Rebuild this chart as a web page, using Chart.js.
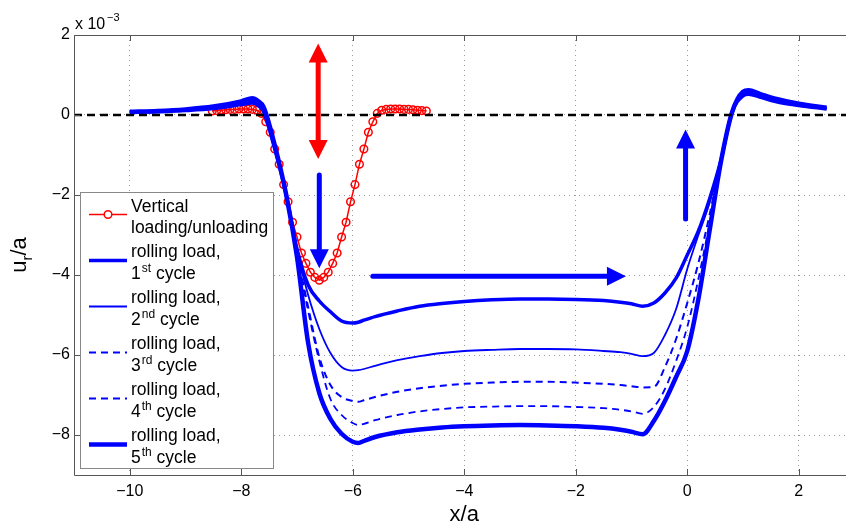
<!DOCTYPE html>
<html>
<head>
<meta charset="utf-8">
<script src="https://cdn.jsdelivr.net/npm/chart.js@4/dist/chart.umd.min.js"></script>
<style>
	html, body { margin: 0; padding: 0; background: #fff; overflow: hidden; }
	#wrap { width: 860px; height: 527px; }
</style>
</head>
<body>
<div id="wrap"><canvas id="ur-chart" width="860" height="527"></canvas></div>
<script>
// values are in units of 1e-3 (axis exponent label)
const xTicks = [ -10, -8, -6, -4, -2, 0, 2 ];
const yTicks = [ -8, -6, -4, -2, 0, 2 ];

const xRolling = [ -10, -9.5, -9, -8.5, -8, -7.8, -7.7, -7.6, -7.4, -7.2, -7.0, -6.8, -6.6, -6.4, -6.2, -6.0, -5.9, -5.8, -5.6, -5.2, -4.8, -4.4, -4, -3.5, -3, -2.5, -2, -1.5, -1.2, -1.0, -0.8, -0.6, -0.4, -0.2, 0, 0.2, 0.4, 0.6, 0.8, 1.0, 1.1, 1.3, 1.6, 2.0, 2.5 ];
const cycle1 = [ 0.06, 0.08, 0.11, 0.16, 0.26, 0.30, 0.24, 0.08, -0.85, -1.95, -3.35, -4.25, -4.65, -4.92, -5.15, -5.2, -5.18, -5.13, -5.04, -4.9, -4.78, -4.71, -4.66, -4.62, -4.6, -4.6, -4.61, -4.64, -4.68, -4.72, -4.78, -4.7, -4.45, -4.08, -3.5, -2.9, -2.1, -1.15, 0.05, 0.48, 0.52, 0.45, 0.33, 0.24, 0.15 ];
const cycle2 = [ 0.07, 0.09, 0.12, 0.18, 0.29, 0.34, 0.27, 0.12, -0.82, -1.95, -3.4, -4.5, -5.35, -5.95, -6.3, -6.39, -6.38, -6.35, -6.27, -6.13, -6.03, -5.95, -5.9, -5.87, -5.85, -5.85, -5.86, -5.9, -5.93, -5.97, -6.03, -5.95, -5.5, -4.85, -3.85, -3.0, -2.2, -1.15, 0.05, 0.52, 0.56, 0.48, 0.35, 0.25, 0.16 ];
const cycle3 = [ 0.07, 0.09, 0.13, 0.19, 0.31, 0.37, 0.30, 0.15, -0.8, -1.95, -3.45, -4.8, -6.05, -6.75, -7.05, -7.15, -7.17, -7.13, -7.05, -6.92, -6.83, -6.77, -6.72, -6.69, -6.67, -6.67, -6.69, -6.72, -6.75, -6.78, -6.81, -6.8, -6.3, -5.6, -4.7, -3.7, -2.5, -1.15, 0.05, 0.55, 0.58, 0.5, 0.37, 0.26, 0.17 ];
const cycle4 = [ 0.07, 0.10, 0.13, 0.20, 0.32, 0.39, 0.32, 0.17, -0.78, -1.95, -3.5, -4.9, -6.15, -7.1, -7.5, -7.7, -7.75, -7.72, -7.63, -7.5, -7.41, -7.35, -7.31, -7.29, -7.28, -7.28, -7.3, -7.33, -7.37, -7.41, -7.47, -7.3, -6.85, -6.15, -5.3, -4.1, -2.7, -1.15, 0.05, 0.57, 0.6, 0.52, 0.38, 0.27, 0.17 ];
const cycle5 = [ 0.08, 0.10, 0.14, 0.21, 0.34, 0.42, 0.35, 0.20, -0.75, -1.95, -3.55, -5.7, -6.95, -7.6, -7.97, -8.17, -8.2, -8.15, -8.05, -7.93, -7.86, -7.81, -7.78, -7.76, -7.75, -7.76, -7.78, -7.82, -7.87, -7.92, -7.98, -7.65, -7.15, -6.55, -5.9, -4.6, -2.9, -1.2, 0.05, 0.58, 0.62, 0.53, 0.4, 0.28, 0.18 ];

const xVertical = [ -8.52, -8.44, -8.36, -8.28, -8.20, -8.12, -8.04, -7.96, -7.88, -7.80, -7.72, -7.64, -7.56, -7.48, -7.40, -7.32, -7.24, -7.16, -7.08, -7.00, -6.92, -6.84, -6.76, -6.68, -6.60, -6.52, -6.44, -6.36, -6.28, -6.20, -6.12, -6.04, -5.96, -5.88, -5.80, -5.72, -5.64, -5.56, -5.48, -5.40, -5.32, -5.24, -5.16, -5.08, -5.00, -4.92, -4.84, -4.76, -4.68 ];
const yVertical = [ 0.10, 0.11, 0.12, 0.13, 0.14, 0.14, 0.15, 0.15, 0.15, 0.14, 0.12, 0.04, -0.17, -0.43, -0.85, -1.23, -1.74, -2.17, -2.68, -3.05, -3.45, -3.71, -3.93, -4.06, -4.13, -4.06, -3.93, -3.71, -3.45, -3.05, -2.68, -2.17, -1.74, -1.23, -0.85, -0.43, -0.17, 0.04, 0.12, 0.14, 0.15, 0.15, 0.15, 0.14, 0.14, 0.13, 0.12, 0.11, 0.10 ];

const xZero = [ -11, 3 ];
const yZero = [ 0, 0 ];

// annotation arrows, data coords: [ x1, y1, x2, y2 ], head at (x2,y2)
const arrowRedBoth = [ -6.62, -1.1, -6.62, 1.79 ];
const arrowDown = [ -6.6, -1.5, -6.6, -3.83 ];
const arrowRight = [ -5.64, -4.03, -1.1, -4.03 ];
const arrowUp = [ -0.03, -2.6, -0.03, -0.36 ];

const cycleNums = [ '1', '2', '3', '4', '5' ];
const cycleSuffix = [ 'st', 'nd', 'rd', 'th', 'th' ];

const FONT = '"Liberation Sans", Arial, Helvetica, sans-serif';
const BLUE = '#0000ff';
const RED = '#ff0000';

const toPoints = ( xs, ys ) => xs.map( ( x, i ) => ( { x: x, y: ys[ i ] } ) );
const minusFmt = ( v ) => ( v < 0 ? '\u2212' + -v : '' + v );

const blueStyle = [
	{ borderWidth: 3.5, borderDash: [] },
	{ borderWidth: 1.8, borderDash: [] },
	{ borderWidth: 2, borderDash: [ 7, 5 ] },
	{ borderWidth: 1.8, borderDash: [ 7, 5 ] },
	{ borderWidth: 4.5, borderDash: [] },
];

const redSet = {
	data: toPoints( xVertical, yVertical ),
	showLine: true,
	borderColor: RED,
	borderWidth: 1.5,
	pointRadius: 3.8,
	pointBorderWidth: 1.5,
	pointBorderColor: RED,
	pointBackgroundColor: 'rgba(0,0,0,0)',
	tension: 0,
	order: 6,
};
const blueSets = [ cycle1, cycle2, cycle3, cycle4, cycle5 ].map( ( ys, i ) => ( {
	data: toPoints( xRolling, ys ),
	showLine: true,
	borderColor: BLUE,
	borderWidth: blueStyle[ i ].borderWidth,
	borderDash: blueStyle[ i ].borderDash,
	pointRadius: 0,
	cubicInterpolationMode: 'monotone',
	order: 5 - i,
} ) );
const zeroSet = {
	data: toPoints( xZero, yZero ),
	showLine: true,
	borderColor: '#000',
	borderWidth: 2.5,
	borderDash: [ 8, 5 ],
	pointRadius: 0,
	order: 0,
};

const drawArrow = ( chart, a, color, both ) => {
	const ctx = chart.ctx,
		sx = chart.scales.x,
		sy = chart.scales.y;
	const x1 = sx.getPixelForValue( a[ 0 ] ),
		y1 = sy.getPixelForValue( a[ 1 ] ),
		x2 = sx.getPixelForValue( a[ 2 ] ),
		y2 = sy.getPixelForValue( a[ 3 ] );
	const len = Math.hypot( x2 - x1, y2 - y1 ),
		ux = ( x2 - x1 ) / len,
		uy = ( y2 - y1 ) / len;
	const headL = 19,
		headW = 9.5;
	const head = ( tx, ty, dx, dy ) => {
		ctx.beginPath();
		ctx.moveTo( tx, ty );
		ctx.lineTo( tx - dx * headL - dy * headW, ty - dy * headL + dx * headW );
		ctx.lineTo( tx - dx * headL + dy * headW, ty - dy * headL - dx * headW );
		ctx.closePath();
		ctx.fill();
	};
	ctx.save();
	ctx.strokeStyle = color;
	ctx.fillStyle = color;
	ctx.lineWidth = 5;
	ctx.lineCap = 'round';
	ctx.beginPath();
	ctx.moveTo( both ? x1 + ux * headL * 0.8 : x1, both ? y1 + uy * headL * 0.8 : y1 );
	ctx.lineTo( x2 - ux * headL * 0.8, y2 - uy * headL * 0.8 );
	ctx.stroke();
	head( x2, y2, ux, uy );
	if ( both ) {
		head( x1, y1, -ux, -uy );
	}
	ctx.restore();
};

const drawLegend = ( chart ) => {
	const ctx = chart.ctx;
	ctx.save();
	ctx.fillStyle = '#fff';
	ctx.fillRect( 80.5, 192.5, 193, 276 );
	ctx.strokeStyle = '#888';
	ctx.lineWidth = 1;
	ctx.strokeRect( 80.5, 192.5, 193, 276 );
	const entries = [ redSet, ...blueSets ];
	entries.forEach( ( ds, i ) => {
		const y = 214.5 + i * 46;
		ctx.strokeStyle = ds.borderColor;
		ctx.lineWidth = ds.borderWidth;
		ctx.setLineDash( ds.borderDash || [] );
		ctx.beginPath();
		ctx.moveTo( 89, y );
		ctx.lineTo( 127, y );
		ctx.stroke();
		ctx.setLineDash( [] );
		if ( ds.pointRadius ) {
			ctx.beginPath();
			ctx.arc( 108, y, ds.pointRadius, 0, Math.PI * 2 );
			ctx.fillStyle = '#fff';
			ctx.fill();
			ctx.lineWidth = ds.pointBorderWidth;
			ctx.stroke();
		}
		ctx.fillStyle = '#000';
		ctx.textBaseline = 'alphabetic';
		ctx.textAlign = 'left';
		ctx.font = '17.5px ' + FONT;
		if ( i === 0 ) {
			ctx.fillText( 'Vertical', 131, y - 3 );
			ctx.fillText( 'loading/unloading', 131, y + 18.5 );
		} else {
			ctx.fillText( 'rolling load,', 131, y - 4 );
			let tx = 131;
			ctx.fillText( cycleNums[ i - 1 ], tx, y + 18.5 );
			tx += ctx.measureText( cycleNums[ i - 1 ] ).width + 1;
			ctx.font = '12px ' + FONT;
			ctx.fillText( cycleSuffix[ i - 1 ], tx, y + 11 );
			tx += ctx.measureText( cycleSuffix[ i - 1 ] ).width;
			ctx.font = '17.5px ' + FONT;
			ctx.fillText( ' cycle', tx, y + 18.5 );
		}
	} );
	ctx.restore();
};

const decorations = {
	id: 'decorations',
	afterDatasetsDraw( chart ) {
		drawArrow( chart, arrowRedBoth, RED, true );
		drawArrow( chart, arrowDown, BLUE, false );
		drawArrow( chart, arrowRight, BLUE, false );
		drawArrow( chart, arrowUp, BLUE, false );
	},
	afterDraw( chart ) {
		const ctx = chart.ctx,
			area = chart.chartArea,
			sx = chart.scales.x,
			sy = chart.scales.y;
		ctx.save();
		// axes box (right side falls outside the window) + inward ticks
		ctx.strokeStyle = '#555';
		ctx.lineWidth = 1;
		ctx.beginPath();
		ctx.moveTo( area.right, area.top + 0.5 );
		ctx.lineTo( area.left + 0.5, area.top + 0.5 );
		ctx.lineTo( area.left + 0.5, area.bottom + 0.5 );
		ctx.lineTo( area.right, area.bottom + 0.5 );
		xTicks.forEach( ( v ) => {
			const px = Math.round( sx.getPixelForValue( v ) ) + 0.5;
			ctx.moveTo( px, area.bottom );
			ctx.lineTo( px, area.bottom - 6 );
			ctx.moveTo( px, area.top );
			ctx.lineTo( px, area.top + 6 );
		} );
		yTicks.forEach( ( v ) => {
			const py = Math.round( sy.getPixelForValue( v ) ) + 0.5;
			ctx.moveTo( area.left, py );
			ctx.lineTo( area.left + 6, py );
		} );
		ctx.stroke();

		// axis titles
		ctx.fillStyle = '#000';
		ctx.textBaseline = 'alphabetic';
		ctx.textAlign = 'center';
		ctx.font = '22px ' + FONT;
		ctx.fillText( 'x/a', ( area.left + area.right ) / 2, 521 );

		ctx.save();
		ctx.translate( 26, ( area.top + area.bottom ) / 2 );
		ctx.rotate( -Math.PI / 2 );
		ctx.textAlign = 'left';
		ctx.font = '22px ' + FONT;
		const wU = ctx.measureText( 'u' ).width;
		ctx.font = '15px ' + FONT;
		const wR = ctx.measureText( 'r' ).width;
		ctx.font = '22px ' + FONT;
		const wA = ctx.measureText( '/a' ).width;
		let tx = -( wU + wR + wA ) / 2;
		ctx.fillText( 'u', tx, 0 );
		tx += wU;
		ctx.font = '15px ' + FONT;
		ctx.fillText( 'r', tx, 6 );
		tx += wR;
		ctx.font = '22px ' + FONT;
		ctx.fillText( '/a', tx, 0 );
		ctx.restore();

		// exponent label
		ctx.textAlign = 'left';
		ctx.font = '16px ' + FONT;
		ctx.fillText( 'x 10', 75, 29 );
		ctx.font = '11px ' + FONT;
		ctx.fillText( '\u22123', 107, 21 );
		ctx.restore();

		drawLegend( chart );
	},
};

Chart.defaults.font.family = FONT;
Chart.defaults.color = '#000';

new Chart( document.getElementById( 'ur-chart' ), {
	type: 'scatter',
	data: {
		datasets: [ zeroSet, ...blueSets, redSet ],
	},
	options: {
		responsive: false,
		animation: false,
		layout: { padding: { top: 35, right: 2, left: 0, bottom: 0 } },
		plugins: {
			legend: { display: false },
			tooltip: { enabled: false },
		},
		scales: {
			x: {
				type: 'linear',
				min: -11,
				max: 3,
				afterBuildTicks: ( axis ) => {
					axis.ticks = xTicks.map( ( v ) => ( { value: v } ) );
				},
				afterFit: ( axis ) => {
					axis.height = 52;
				},
				grid: { color: '#9a9a9a', lineWidth: 1, drawTicks: false },
				border: { display: false, dash: [ 1, 4 ] },
				ticks: {
					padding: 7,
					maxRotation: 0,
					font: { size: 16 },
					callback: minusFmt,
				},
			},
			y: {
				type: 'linear',
				min: -9,
				max: 2,
				afterBuildTicks: ( axis ) => {
					axis.ticks = yTicks.map( ( v ) => ( { value: v } ) );
				},
				afterFit: ( axis ) => {
					axis.width = 74;
				},
				grid: { color: '#9a9a9a', lineWidth: 1, drawTicks: false },
				border: { display: false, dash: [ 1, 4 ] },
				ticks: {
					padding: 4,
					font: { size: 16 },
					callback: minusFmt,
				},
			},
		},
	},
	plugins: [ decorations ],
} );
</script>
</body>
</html>
